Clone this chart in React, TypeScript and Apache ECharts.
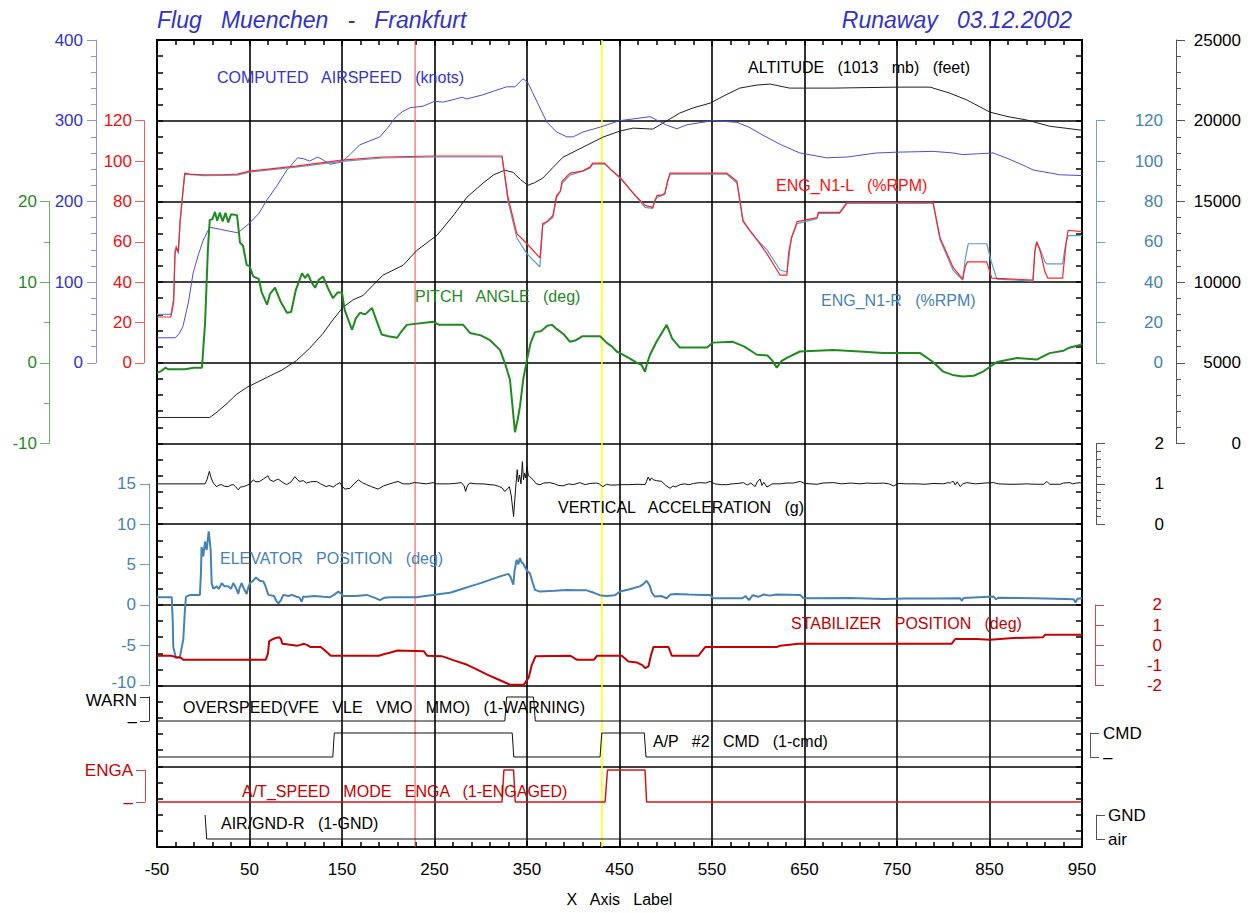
import React, { useEffect, useRef } from "react";
import * as echarts from "echarts";

type P = [number, number];

// ---------- data (x = X axis units) ----------
const airspeed: P[] = [[-50,31],[-30.5,31],[-26,36],[-22,45],[-16,75],[-11,111],[-5,135],[0,152],[7,168],[20,165],[37.5,161],[50,173],[60,185],[69,202],[80,220],[90.5,239],[102,254],[108,253],[115,250],[124,255],[130,251],[137,246],[150,249],[158.6,258],[169,270],[180,275],[191,280],[200,292],[207,303],[215,311],[223.5,316],[237.6,318],[250,324],[259,323],[270,326],[279.7,329],[285,327],[302,332],[315,337],[328,342],[337,342],[345.7,352],[351,347],[356,335],[361,323],[371.6,298],[382,286],[393,280],[400,280],[410.5,286],[429,292],[450,300],[470,303],[483,305],[490,301],[500,295],[512,290],[523,295],[551,300],[577,298],[590,292],[605,282],[625,270],[645,260],[674,254],[696,255],[728,260],[750,261],[789,262],[810.5,260],[821,258],[854,260],[870,253],[890,243],[897,239],[926,233],[950,232]];

const n1Left: P[] = [[-50,22.7],[-35,22.7],[-32,30],[-30.5,54],[-29,57],[-27,55],[-25,70],[-23,80],[-20,94],[-15,93.5],[0,93.2],[20,93.2],[37,93.5],[50,95],[100,97.5],[150,100.5],[194,102],[250,102.5],[323,102.5],[329.5,82],[339,64],[350,59],[364,52],[367,69],[372,70],[378,73],[382,83],[386,85],[388,90],[396.5,94],[410,95],[418,97],[421,99],[434,99],[440,96],[450.5,92],[465,84],[477.6,78],[486,77],[488,80],[490.5,83],[495,83],[499,84],[502,90],[504.6,94],[537,94],[566,94],[577,90],[583.5,70.6],[590,66],[598.6,61],[609.5,54],[623.5,43.5],[631,43.5],[633,55],[636,62],[642,70],[663.5,72],[665,74.6],[688,74.6],[696,79.5],[789,79.5],[796.5,62],[810.5,47.4],[821,41.5],[824,48],[826,50],[847,50],[852.5,42],[897,41],[899,55],[901,60],[905,55],[910,45],[913,42],[929,42],[933,60],[935,65.7],[950,65]];

const n1Right: P[] = [[-50,24],[-35,24],[-32,32],[-30.5,56],[-29,58],[-27,54],[-25,70],[-23,80],[-20,93.5],[0,92.8],[37,93],[50,94.5],[100,97],[150,99.8],[194,101.5],[250,102],[323,102],[329.5,80],[339,62],[350,54],[364,47.5],[367,68],[372,70],[378,72],[382,82],[386,85],[388,89],[396.5,93],[410,95],[418,96.5],[421,98.5],[434,98.5],[440,96],[450.5,91.5],[465,84],[477.6,77],[486,76.5],[488,80],[490.5,82],[499,83.5],[502,90],[504.6,93.5],[566,93.5],[577,89],[583.5,70],[598.6,61],[609.5,56],[623.5,46],[631,45],[636,62],[642,69],[663.5,71.5],[665,74],[688,74],[696,79],[789,79],[796.5,61],[810.5,46],[821,41],[824,52],[827,59],[847,59],[852,50],[858,41.5],[897,40.5],[899,55],[901,60],[905,56],[910,50],[912,49],[929,49],[932,58],[935,63],[950,63]];

const altitude: P[] = [[-50,1613],[7,1613],[15,1950],[25.7,2480],[36,3050],[47,3470],[69,4100],[85,4550],[101,5150],[115,5900],[129.5,6820],[140,7650],[151,8440],[162,8900],[173,9180],[194,10420],[216,11040],[231,11970],[252.7,12900],[270,14100],[285,15260],[302.4,16130],[314,16650],[326,16935],[335,16800],[343,16350],[351,16000],[358,16150],[367,16440],[378,17100],[389,17740],[410.5,18360],[432,18980],[450,19350],[464.6,19540],[486,19480],[497,19850],[515,20470],[530,20800],[548,21090],[565,21600],[580,22020],[598.6,22210],[612.7,22270],[634,22020],[681,22020],[750,22080],[785.7,22080],[807,21710],[825.7,21280],[850.5,20530],[870,20250],[890.5,20040],[915,19660],[948,19420],[950,19410]];

const pitch: P[] = [[-50,-1.25],[-45,-1.0],[-41,-0.6],[-38,-0.8],[-20,-0.8],[-10,-0.6],[-1.4,-0.6],[2,5],[5,14],[7,17.7],[10,17.8],[12.7,18.7],[15,17.6],[18,18.6],[21,17.5],[24,18.6],[27,17.4],[30,18.4],[36.5,18.3],[39.7,14.9],[43,14.5],[47,12.1],[50,12.0],[54,10.7],[60,10.4],[63,8.8],[69,7.2],[72,8.5],[77.6,9.3],[84,7.5],[90.5,6.2],[95,6.3],[100,9],[106.8,11.1],[110,10.5],[113,11.0],[117,10],[121,9.3],[125,10.3],[129.5,10.7],[135,9.2],[140.3,8.0],[145,8.7],[150,8.7],[153,6.5],[160.8,4.1],[165,5.5],[169.5,6.2],[175,6.0],[182.4,6.8],[188,5],[193,3.5],[200,3.3],[209.5,3.1],[215,4],[220,4.7],[248.4,5.1],[255,4.7],[281,4.7],[288.4,3.7],[300,3.4],[310,2.8],[320.8,1.6],[326,0],[331.6,-2.1],[334,-5],[337,-8.6],[340,-7],[342.4,-5.4],[346,-2],[350,0.4],[354,2.5],[358.6,3.8],[365,3.9],[372,4.6],[377,4.7],[382,4.2],[390,3.5],[396.5,2.6],[403,2.8],[410,3.3],[420,3.3],[429,3.3],[436,2.5],[442,2.0],[447,1.4],[450.5,1.2],[460,0.6],[469,0],[474,-0.3],[477.6,-1.1],[480,0],[483,1.0],[490,2.6],[501,4.7],[507,3.0],[515,1.9],[544.6,1.9],[551,2.5],[572.7,2.6],[585,2.0],[598.6,1.0],[610,0.9],[615,0.3],[620,-0.6],[625,0.2],[631,0.6],[645,1.4],[681,1.6],[710,1.4],[735,1.2],[775,1.2],[789,0.1],[800,-1.1],[810,-1.5],[821,-1.7],[833,-1.6],[843,-1.1],[858,0.1],[879.7,0.6],[901,0.4],[915,1.2],[930,1.5],[937,1.9],[948,2.2],[950,2.4]];

const verticalAccel: P[] = [[-50,1.0],[2,1.0],[4,1.1],[6.6,1.31],[8.5,1.15],[10.9,1.02],[14.5,0.93],[17,0.97],[19.9,0.98],[23,0.94],[27,0.93],[30,0.97],[32.5,0.98],[35,0.93],[37.9,0.85],[40,0.92],[43.3,0.93],[47,0.96],[50.5,1.0],[54,1.1],[57,1.05],[61,1.06],[65,1.12],[70,1.2],[72,1.1],[75.7,1.06],[81,1.12],[85,1.05],[90,0.98],[95,1.05],[99,1.18],[102,1.1],[104.5,1.06],[108,1.08],[111.6,1.02],[116,1.05],[122.4,1.06],[127,1.0],[133,0.93],[136,0.96],[140.5,0.92],[144,0.98],[147.7,1.03],[150,0.95],[153,0.87],[158.6,0.89],[163,1.0],[167.6,1.1],[172,1.03],[176.6,0.98],[182,0.93],[189,0.87],[195,0.95],[201.6,1.0],[206,1.03],[210.6,1.06],[216,1.0],[223,1.0],[228,1.03],[234,1.02],[241,1.0],[248.4,1.03],[252,1.0],[260,1.0],[266.5,1.0],[272,1.01],[279,1.03],[282,0.95],[283.6,0.81],[285.5,0.95],[288,1.02],[295,1.0],[302.4,1.0],[310,0.98],[315,0.97],[320.4,0.93],[323,0.9],[326,0.81],[329,0.88],[331,0.93],[333,0.7],[335.5,0.19],[337.6,0.85],[339.4,1.35],[340.6,1.05],[342,1.22],[343.5,1.0],[345,1.55],[346.2,1.1],[347.4,1.26],[348.6,1.15],[350,1.43],[351.5,1.2],[353,1.18],[356.6,1.1],[360,1.0],[364,0.98],[368,1.02],[374.6,1.03],[380,1.0],[384,0.96],[389,0.95],[395,1.0],[400,0.98],[407,1.03],[413,0.98],[418,1.01],[425,1.02],[428,1.0],[432,0.93],[436,0.99],[440,0.97],[446.6,0.97],[450.5,0.98],[460,0.98],[470,0.99],[477.6,0.98],[479,1.05],[481,1.17],[483,1.08],[484.5,1.15],[486.6,1.1],[490,1.08],[495.6,1.06],[500,0.96],[504.6,0.89],[508,0.95],[510,0.92],[515.5,0.98],[520,1.0],[525,0.98],[530,1.01],[537,1.03],[543,1.02],[548,1.06],[553,1.0],[560,0.98],[566,0.98],[572,1.0],[578,1.01],[584,1.03],[588,0.97],[592,1.02],[596.6,0.93],[599,1.05],[602,1.12],[604,0.96],[606,1.04],[609.4,0.92],[615,1.0],[623.8,1.0],[630,1.02],[638,1.02],[645.4,1.06],[650,1.01],[657,1.0],[663.5,0.99],[670,1.02],[681.5,1.03],[690,1.0],[700,1.02],[710,1.0],[717.5,1.02],[725,1.01],[735.5,1.02],[741,1.0],[746.3,0.95],[752,1.01],[760,1.0],[771.5,1.0],[780,0.99],[790,1.01],[800,1.0],[805,1.03],[807.6,1.02],[809,1.05],[811,1.06],[813,0.97],[815,1.05],[818.4,0.93],[821,1.0],[825.6,1.03],[835,1.0],[845,1.02],[854.4,1.03],[860,1.0],[870,0.99],[879.6,0.99],[890,1.0],[900,0.99],[908.5,0.99],[912,1.06],[915,0.99],[926.4,0.99],[930,1.02],[937,1.03],[940,1.0],[944,1.02],[948,1.03],[950,1.0]];

const elevator: P[] = [[-50,0.95],[-34.1,0.95],[-33,-2],[-32.4,-5.2],[-29.5,-6.6],[-25.2,-6.4],[-21.6,-4.3],[-20,-1],[-18.7,1.0],[-14.4,1.24],[-3.6,1.24],[-2.5,4],[-1.8,7.2],[0,6.0],[1.9,7.85],[3.7,6.8],[5.9,9.1],[7,8],[8,6.8],[9.1,2.7],[11,2.0],[14.5,2.3],[17,2.0],[20,2.7],[23,2.3],[27,2.3],[30,2.0],[32.5,2.7],[35,2.2],[37.9,1.36],[39,2.0],[41.5,2.7],[44,2.0],[46.9,1.36],[48,1.9],[50.5,2.7],[54,3.0],[57,3.4],[61,3.0],[65,2.9],[67,2.4],[70.4,1.24],[76.5,1.1],[79,0.5],[81.2,0.2],[84,0.6],[86.6,1.24],[92,1.1],[96,1.24],[101,1.0],[104,0.9],[106.4,0.4],[108,1.0],[111.8,1.0],[120,1.1],[130,1.0],[137,0.95],[142,1.3],[146,1.65],[149,1.4],[151.5,1.1],[165,1.1],[176.6,1.24],[185,0.9],[191,0.6],[196,0.9],[202,0.95],[230.8,0.95],[240,1.1],[248.8,1.24],[256,1.35],[266.8,1.5],[278,1.9],[288.4,2.3],[300,2.7],[310,3.1],[320,3.5],[329.8,3.85],[332,3.5],[335.2,2.5],[336.5,4.2],[338.8,5.6],[340.5,5.0],[342.4,5.8],[344,5.3],[346,5.1],[349.6,4.3],[353.2,3.9],[356,2.8],[358.6,1.86],[364,1.65],[380,1.75],[392.8,1.86],[405,1.8],[414.4,1.8],[420,1.6],[425.2,1.36],[430,1.15],[436,1.1],[445,1.2],[450.5,1.65],[460,1.9],[472,2.3],[476,2.6],[479.3,3.0],[481,2.7],[482.9,2.3],[485,1.5],[488.3,1.03],[495,1.1],[501,0.83],[505,1.3],[511.7,1.36],[525,1.3],[540.6,1.24],[548,1.24],[551.4,0.83],[583,0.83],[586,1.1],[590,0.6],[594,1.2],[600,1.0],[606,1.3],[612,1.15],[620,1.3],[645.4,1.24],[649,0.83],[700,0.85],[735.5,0.74],[760,0.8],[790,0.78],[818.4,0.83],[820,0.5],[822,0.85],[854.4,1.03],[857,0.7],[860,0.9],[900,0.82],[941,0.7],[943,0.3],[945,0.75],[950,0.83]];

const stabilizer: P[] = [[-50,-0.52],[-35,-0.52],[-29,-0.59],[-24,-0.62],[-21.6,-0.72],[67.6,-0.72],[70,-0.4],[71.2,0.19],[75,0.3],[78.4,0.36],[82,0.4],[84,0.3],[85.6,0.07],[101.8,-0.02],[105,0.02],[109,0.07],[112,0.02],[116.2,-0.09],[127,-0.09],[130.6,-0.22],[135,-0.4],[137.8,-0.52],[190,-0.52],[195,-0.45],[202.6,-0.36],[209.8,-0.26],[238.6,-0.3],[240,-0.4],[242.2,-0.52],[258.4,-0.55],[265,-0.65],[271,-0.75],[285.4,-0.97],[300,-1.3],[307,-1.46],[319.6,-1.71],[332.2,-1.96],[346.6,-1.96],[352,-1.58],[355,-1.0],[359.2,-0.55],[397,-0.52],[404.2,-0.72],[422.2,-0.72],[425.8,-0.52],[452.5,-0.52],[459.7,-0.8],[468.7,-0.85],[475,-1.0],[477.7,-1.13],[481.3,-1.05],[484,-0.5],[486.7,-0.09],[503,-0.09],[506.5,-0.52],[535.4,-0.52],[539,-0.3],[542.6,-0.09],[620,-0.09],[623.6,-0.02],[643.5,0.07],[809,0.07],[812.9,0.31],[836,0.31],[850.5,0.27],[875.8,0.36],[908,0.4],[910,0.52],[950,0.52]];

const overspeed: P[] = [[-50,0],[326,0],[328,1],[357,1],[359,0],[950,0]];
const apCmd: P[] = [[-50,0],[140,0],[141.7,1],[334,1],[335.7,0],[429,0],[430.8,1],[476.8,1],[478.6,0],[950,0]];
const atSpeedMode: P[] = [[-50,0],[323,0],[325,1],[335.5,1],[337.3,0],[434.4,0],[437,1],[477.6,1],[479.3,0],[950,0]];
const airGnd: P[] = [[2,1],[3.7,0],[950,0]];

const markerRed = 229;
const markerYellow = 431;

// ---------- layout ----------
const FONT = "'Liberation Sans', Arial, Helvetica, sans-serif";
const LEFT = 157;
const RIGHT = 1258 - 1082;
const band = (k: number) => 40 + k * 80.7;

type AxisDef = {
  top: number; bottom: number; min: number; max: number; interval: number;
  pos: "left" | "right"; offset: number; line: string; label: string;
  minor?: number; margin: number; align?: string; formatter?: (v: number) => string;
  rich?: any;
};

const plain = (v: number) => String(v);

const axes: AxisDef[] = [
  // 1 airspeed
  { top: band(0), bottom: band(4), min: 0, max: 400, interval: 100, pos: "left", offset: 61, line: "#8f8fe8", label: "#3434c8", minor: 5, margin: 13, formatter: plain },
  // 2 N1 left
  { top: band(1), bottom: band(4), min: 0, max: 120, interval: 20, pos: "left", offset: 13, line: "#ff5a5a", label: "#f01010", margin: 12, formatter: plain },
  // 3 pitch
  { top: band(2), bottom: band(5), min: -10, max: 20, interval: 10, pos: "left", offset: 108, line: "#6aae6a", label: "#1f8a1f", minor: 2, margin: 12, formatter: plain },
  // 4 altitude
  { top: band(0), bottom: band(5), min: 0, max: 25000, interval: 5000, pos: "right", offset: 94, line: "#555555", label: "#000000", minor: 5, margin: 65, align: "right", formatter: plain },
  // 5 N1 right
  { top: band(1), bottom: band(4), min: 0, max: 120, interval: 20, pos: "right", offset: 14, line: "#6f9fcc", label: "#4682b4", margin: 67, align: "right", formatter: plain },
  // 6 vertical acceleration
  { top: band(5), bottom: band(6), min: 0, max: 2, interval: 1, pos: "right", offset: 14, line: "#555555", label: "#000000", minor: 5, margin: 68, align: "right", formatter: plain },
  // 7 elevator
  { top: band(5.5), bottom: band(8), min: -10, max: 15, interval: 5, pos: "left", offset: 8, line: "#6a9ccc", label: "#4682b4", margin: 13,
    formatter: (v) => (v <= -10 ? `{up|${v}}` : String(v)),
    rich: { up: { color: "#4682b4", fontSize: 17, fontFamily: FONT, padding: [0, 0, 6, 0] } } },
  // 8 stabilizer
  { top: band(7), bottom: band(8), min: -2, max: 2, interval: 1, pos: "right", offset: 13, line: "#d84848", label: "#c40000", margin: 67, align: "right", formatter: plain },
  // 9 overspeed (WARN)
  { top: 697, bottom: 721, min: 0, max: 1, interval: 1, pos: "left", offset: 8, line: "#333333", label: "#000000", margin: 12,
    formatter: (v) => (v >= 1 ? "{dn|WARN}" : "–"),
    rich: { dn: { color: "#000000", fontSize: 17, fontFamily: FONT, padding: [6, 0, 0, 0] } } },
  // 10 A/P CMD
  { top: 733, bottom: 757, min: 0, max: 1, interval: 1, pos: "right", offset: 8, line: "#555555", label: "#000000", margin: 13, formatter: (v) => (v >= 1 ? "CMD" : "–") },
  // 11 A/T ENGA
  { top: 770, bottom: 802, min: 0, max: 1, interval: 1, pos: "left", offset: 12, line: "#d84848", label: "#c40000", margin: 12, formatter: (v) => (v >= 1 ? "ENGA" : "–") },
  // 12 AIR/GND
  { top: 815, bottom: 839, min: 0, max: 1, interval: 1, pos: "right", offset: 14, line: "#555555", label: "#000000", margin: 12, formatter: (v) => (v >= 1 ? "GND" : "air") },
];

const seriesDefs: { data: P[]; axis: number; color: string; width: number }[] = [
  { data: altitude, axis: 4, color: "#202020", width: 1 },
  { data: airspeed, axis: 1, color: "#4d4ddc", width: 1 },
  { data: n1Right, axis: 5, color: "#5b9bd2", width: 1.2 },
  { data: n1Left, axis: 2, color: "#ff2424", width: 1.2 },
  { data: pitch, axis: 3, color: "#1f8a1f", width: 2 },
  { data: verticalAccel, axis: 6, color: "#111111", width: 1 },
  { data: elevator, axis: 7, color: "#4682b4", width: 2 },
  { data: stabilizer, axis: 8, color: "#c40000", width: 2 },
  { data: overspeed, axis: 9, color: "#111111", width: 1 },
  { data: apCmd, axis: 10, color: "#111111", width: 1 },
  { data: atSpeedMode, axis: 11, color: "#d01818", width: 1.5 },
  { data: airGnd, axis: 12, color: "#111111", width: 1 },
];

const annotations = [
  { text: "COMPUTED   AIRSPEED   (knots)", x: 217, y: 77.5, color: "#3434d0" },
  { text: "ALTITUDE   (1013   mb)   (feet)", x: 748, y: 67, color: "#000000" },
  { text: "ENG_N1-L   (%RPM)", x: 776, y: 185, color: "#ff1010" },
  { text: "PITCH   ANGLE   (deg)", x: 415, y: 296, color: "#1f8a1f" },
  { text: "ENG_N1-R   (%RPM)", x: 821, y: 300, color: "#4682b4" },
  { text: "VERTICAL   ACCELERATION   (g)", x: 558, y: 507, color: "#000000" },
  { text: "ELEVATOR   POSITION   (deg)", x: 220, y: 558, color: "#4682b4" },
  { text: "STABILIZER   POSITION   (deg)", x: 791, y: 623.5, color: "#c40000" },
  { text: "OVERSPEED(VFE   VLE   VMO   MMO)   (1-WARNING)", x: 183, y: 707.5, color: "#000000" },
  { text: "A/P   #2   CMD   (1-cmd)", x: 653, y: 741.5, color: "#000000" },
  { text: "A/T_SPEED   MODE   ENGA   (1-ENGAGED)", x: 242, y: 791, color: "#c40000" },
  { text: "AIR/GND-R   (1-GND)", x: 221, y: 823.5, color: "#000000" },
];

function buildOption(): any {
  const grids: any[] = [{ left: LEFT, right: RIGHT, top: band(0), height: band(10) - band(0) }];
  axes.forEach((a) => grids.push({ left: LEFT, right: RIGHT, top: a.top, height: a.bottom - a.top }));

  const xAxes: any[] = [
    {
      gridIndex: 0, type: "value", position: "bottom", min: -50, max: 950, interval: 100,
      axisLine: { show: true, onZero: false, lineStyle: { color: "#000", width: 2 } },
      axisTick: { show: true, inside: true, length: 6, lineStyle: { color: "#000", width: 1.5 } },
      minorTick: { show: true, splitNumber: 5, length: 5, lineStyle: { color: "#000", width: 1.5 } },
      splitLine: { show: true, lineStyle: { color: "#000", width: 1.6 } },
      axisLabel: { color: "#000", fontSize: 17, fontFamily: FONT, margin: 14, formatter: plain },
      name: "X   Axis   Label", nameLocation: "middle", nameGap: 44,
      nameTextStyle: { color: "#000", fontSize: 16, fontFamily: FONT },
    },
    {
      gridIndex: 0, type: "value", position: "top", min: -50, max: 950, interval: 100,
      axisLine: { show: true, onZero: false, lineStyle: { color: "#000", width: 2 } },
      axisTick: { show: true, inside: true, length: 6, lineStyle: { color: "#000", width: 1.5 } },
      minorTick: { show: true, splitNumber: 5, length: 5, lineStyle: { color: "#000", width: 1.5 } },
      splitLine: { show: false }, axisLabel: { show: false },
    },
  ];
  axes.forEach((_, i) => xAxes.push({ gridIndex: i + 1, type: "value", min: -50, max: 950, show: false }));

  const mainY = (pos: string, split: boolean) => ({
    gridIndex: 0, type: "value", position: pos, min: 0, max: 10, interval: 1,
    axisLine: { show: true, onZero: false, lineStyle: { color: "#000", width: 2 } },
    axisTick: { show: true, inside: true, length: 6, lineStyle: { color: "#000", width: 1.5 } },
    minorTick: { show: true, splitNumber: 5, length: 6, lineStyle: { color: "#000", width: 1.5 } },
    splitLine: { show: split, lineStyle: { color: "#000", width: 1.5 } },
    axisLabel: { show: false },
  });
  const yAxes: any[] = [mainY("left", true), mainY("right", false)];
  axes.forEach((a, i) => {
    yAxes.push({
      gridIndex: i + 1, type: "value", position: a.pos, offset: a.offset,
      min: a.min, max: a.max, interval: a.interval,
      axisLine: { show: true, onZero: false, lineStyle: { color: a.line, width: 1 } },
      axisTick: { show: true, inside: false, length: 9, lineStyle: { color: a.line, width: 1 } },
      minorTick: a.minor ? { show: true, splitNumber: a.minor, length: 5, lineStyle: { color: a.line, width: 1 } } : { show: false },
      splitLine: { show: false },
      axisLabel: {
        show: true, color: a.label, fontSize: 17, fontFamily: FONT, margin: a.margin,
        align: a.align, formatter: a.formatter, rich: a.rich,
      },
    });
  });

  const series: any[] = seriesDefs.map((s) => ({
    type: "line", xAxisIndex: s.axis + 1, yAxisIndex: s.axis + 1, data: s.data,
    showSymbol: false, symbol: "none", clip: false, silent: true,
    lineStyle: { color: s.color, width: s.width }, z: 3,
  }));
  series.push({
    type: "line", xAxisIndex: 0, yAxisIndex: 0, data: [[markerRed, 0], [markerRed, 10]],
    showSymbol: false, symbol: "none", silent: true, lineStyle: { color: "#ee4a4a", width: 1 }, z: 2,
  });
  series.push({
    type: "line", xAxisIndex: 0, yAxisIndex: 0, data: [[markerYellow, 0], [markerYellow, 10]],
    showSymbol: false, symbol: "none", silent: true, lineStyle: { color: "#ffff00", width: 1.5 }, z: 2,
  });

  const graphic: any[] = [
    { type: "text", x: 157, y: 20, silent: true, style: { text: "Flug   Muenchen   -   Frankfurt", fill: "#3232c8", font: `italic 23px ${FONT}`, align: "left", verticalAlign: "middle" } },
    { type: "text", x: 1072, y: 20, silent: true, style: { text: "Runaway   03.12.2002", fill: "#3232c8", font: `italic 23px ${FONT}`, align: "right", verticalAlign: "middle" } },
    ...annotations.map((a) => ({
      type: "text", x: a.x, y: a.y, silent: true, z: 10,
      style: { text: a.text, fill: a.color, font: `16px ${FONT}`, align: "left", verticalAlign: "middle" },
    })),
  ];

  return {
    animation: false,
    backgroundColor: "#ffffff",
    textStyle: { fontFamily: FONT },
    grid: grids,
    xAxis: xAxes,
    yAxis: yAxes,
    series,
    graphic,
  };
}

export default function App() {
  const ref = useRef<HTMLDivElement>(null);
  useEffect(() => {
    if (!ref.current) return;
    const chart = echarts.init(ref.current, null, { renderer: "svg" });
    chart.setOption(buildOption());
    return () => chart.dispose();
  }, []);
  return (
    <div
      ref={ref}
      style={{ position: "fixed", left: 0, top: 0, width: 1258, height: 913, background: "#fff" }}
    />
  );
}
